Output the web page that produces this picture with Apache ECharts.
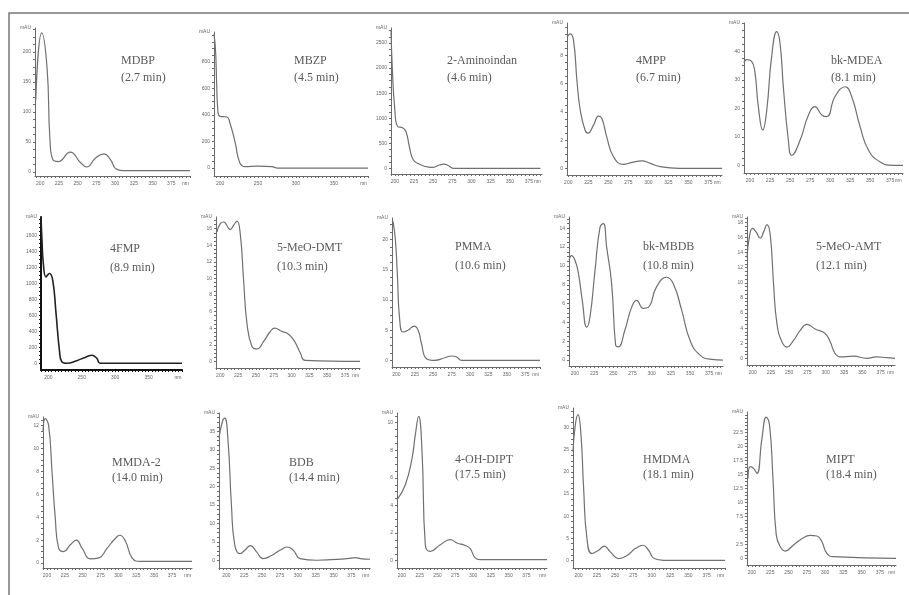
<!DOCTYPE html>
<html>
<head>
<meta charset="utf-8">
<script src="https://cdn.jsdelivr.net/npm/echarts@6/dist/echarts.min.js"></script>
<style>
  html, body { margin: 0; padding: 0; background: #fff; }
  #main { width: 909px; height: 595px; }
</style>
</head>
<body>
<div id="main"></div>
<script>
// compounds and retention times
const compounds = ['MDBP', 'MBZP', '2-Aminoindan', '4MPP', 'bk-MDEA',
                   '4FMP', '5-MeO-DMT', 'PMMA', 'bk-MBDB', '5-MeO-AMT',
                   'MMDA-2', 'BDB', '4-OH-DIPT', 'HMDMA', 'MIPT'];
const retention = ['(2.7 min)', '(4.5 min)', '(4.6 min)', '(6.7 min)', '(8.1 min)',
                   '(8.9 min)', '(10.3 min)', '(10.6 min)', '(10.8 min)', '(12.1 min)',
                   '(14.0 min)', '(14.4 min)', '(17.5 min)', '(18.1 min)', '(18.4 min)'];

// UV spectra: wavelength (nm) and absorbance (mAU)
const mdbpNm  = [194, 202, 209, 213, 217, 224, 240, 254, 262, 274, 285, 294, 301, 310, 400];
const mdbpAbs = [120, 232, 175, 53, 20, 17, 33, 15, 8, 23, 30, 20, 5, 2, 2];

const mbzpNm  = [192, 194, 195.5, 197, 200, 209, 213, 220, 226, 233, 250, 268, 276, 395];
const mbzpAbs = [1010, 890, 640, 440, 390, 385, 340, 190, 40, 10, 15, 10, 0, 0];

const aminoNm  = [195, 196.6, 200, 204, 210, 214.6, 219, 224, 231, 244, 250, 258, 264, 270, 277, 390];
const aminoAbs = [2760, 2040, 1170, 830, 810, 730, 430, 170, 90, 25, 20, 65, 85, 50, 0, 0];

const mppNm  = [198.5, 202.5, 206.6, 210.8, 215, 221, 224.5, 231.5, 237.8, 242, 248, 256.5, 269, 279.5, 292, 302.5, 315, 338, 392];
const mppAbs = [9.3, 9.53, 9.05, 6.23, 4.1, 2.7, 2.5, 3.06, 3.7, 3.53, 2.23, 0.82, 0.28, 0.42, 0.53, 0.35, 0.12, 0, 0];

const mdeaNm  = [192.5, 195.8, 202, 206, 210.4, 215.9, 220.9, 227, 233.4, 237.5, 241.6, 247.9, 252, 262.5, 273, 281, 289.6, 295.9, 306, 318.8, 327, 337.5, 348, 362.5, 379, 391];
const mdeaAbs = [35.9, 37.1, 36.5, 33, 20.6, 12.4, 19.4, 38.2, 47, 42.9, 27.6, 8.8, 3.5, 8.8, 17.7, 20.6, 17.7, 17.1, 24.1, 27.6, 24.1, 13.5, 5.3, 1.2, 0, 0];

const fmpNm  = [189, 190.5, 192.5, 196.5, 201.5, 206.5, 211.5, 216.5, 220, 227.5, 242.5, 257.5, 265, 272.5, 277.5, 400];
const fmpAbs = [1833, 1540, 1250, 1083, 1125, 1042, 625, 167, 21, 0, 33, 83, 100, 63, 0, 0];

const dmtNm  = [195.4, 200, 204.7, 214, 218.7, 223.4, 228, 232.7, 237.4, 244.5, 251.5, 260.8, 270.2, 276.3, 286.6, 293.6, 302.9, 312.3, 319.3, 396];
const dmtAbs = [15.6, 16.6, 16.8, 15.9, 16.4, 16.9, 15.4, 9.8, 4.6, 1.8, 1.5, 2.4, 3.6, 4.0, 3.6, 3.4, 2.6, 1.0, 0.12, 0];

const pmmaNm  = [195.4, 198.6, 201.4, 204.5, 209, 215.8, 224, 229.5, 234, 240.9, 252, 265.8, 275, 281.8, 288.6, 395];
const pmmaAbs = [23.05, 20, 13.9, 6.67, 4.7, 5, 5.67, 5, 2.8, 0.28, 0, 0.44, 0.72, 0.55, 0, 0];

const mbdbNm  = [192.2, 195.7, 200, 204.3, 209.5, 215.3, 219.6, 226.1, 232.6, 237, 241.3, 247.8, 253, 256.4, 265.1, 273.8, 280.4, 289, 295.5, 306.5, 319.5, 328.2, 339.1, 350, 363, 378, 393];
const mbdbAbs = [10.6, 11.1, 10.6, 9.3, 6.35, 3.5, 4.6, 9.5, 14.1, 14.5, 12, 8.1, 1.6, 1.4, 3.2, 5.6, 6.35, 5.5, 5.6, 7.8, 8.8, 8.1, 5.3, 2.1, 0.53, 0.07, 0];

const amtNm  = [192.4, 196, 200, 205, 210.5, 215, 219.7, 224.2, 228.7, 233.3, 240.1, 246.9, 256, 265.1, 274.2, 285.5, 299.1, 306, 312.8, 319.6, 337.8, 356, 369.6, 383.3, 394.6];
const amtAbs = [13.3, 16.3, 17.2, 16.7, 15.9, 16.7, 17.7, 16.3, 9.8, 4.6, 2.2, 1.5, 2.4, 3.7, 4.5, 3.9, 3.3, 2.2, 0.65, 0.2, 0.3, 0, 0.2, 0.1, 0];

const mmdaNm  = [194.4, 197.6, 202.3, 207, 211.6, 216.3, 223.3, 232.7, 241.1, 249.1, 260.8, 272.5, 284.3, 295.9, 302, 310, 319.4, 331, 403];
const mmdaAbs = [11.44, 12.6, 12, 8, 3.9, 1.3, 1.0, 1.6, 2.0, 1.3, 0.37, 0.46, 1.3, 2.17, 2.43, 1.88, 0.43, 0.14, 0.14];

const bdbNm  = [189.6, 194.4, 197.6, 202.3, 207, 211.7, 218.7, 225.7, 233.7, 242.2, 251.5, 263.2, 274.9, 285.2, 293.7, 303.1, 326.6, 368.8, 380.4, 387.5, 401];
const bdbAbs = [33.2, 37.7, 38.6, 32.3, 15, 4.1, 1.8, 2.7, 4.0, 2.3, 0.45, 1.3, 2.7, 3.6, 2.7, 0.45, 0, 0.45, 0.72, 0.45, 0.27];

const diptNm  = [193, 204.7, 214.1, 218.7, 223.4, 228.2, 232.8, 239.8, 253.9, 268, 277.4, 289.1, 296, 303, 310, 404];
const diptAbs = [4.4, 5.5, 7.4, 9.1, 10.45, 7.9, 1.16, 0.67, 1.16, 1.52, 1.28, 1.1, 0.87, 0.2, 0.07, 0.07];

const hmdmaNm  = [192.4, 195.6, 199.2, 203.3, 206.9, 211.5, 218.3, 227.4, 235.1, 243.3, 254.7, 266.1, 277.5, 288, 295.6, 303.4, 316.1, 400];
const hmdmaAbs = [24.6, 30.7, 33, 28.4, 16.3, 4.9, 1.5, 2.27, 3.2, 1.9, 0.39, 1.07, 2.65, 3.4, 2.27, 0.39, 0, 0];

const miptNm  = [194.6, 197.7, 202.2, 206.8, 213.6, 219.5, 224.1, 228.7, 233.2, 238.6, 245.5, 256.8, 268.3, 279.6, 288.7, 295.5, 302.4, 311.5, 397];
const miptAbs = [14.3, 16.4, 16.1, 15.2, 21.4, 25.3, 23.8, 14.3, 4.2, 2.1, 1.3, 2.4, 3.5, 4.1, 4.0, 3.0, 0.9, 0.3, 0];

const spectraNm  = [mdbpNm, mbzpNm, aminoNm, mppNm, mdeaNm, fmpNm, dmtNm, pmmaNm, mbdbNm, amtNm, mmdaNm, bdbNm, diptNm, hmdmaNm, miptNm];
const spectraAbs = [mdbpAbs, mbzpAbs, aminoAbs, mppAbs, mdeaAbs, fmpAbs, dmtAbs, pmmaAbs, mbdbAbs, amtAbs, mmdaAbs, bdbAbs, diptAbs, hmdmaAbs, miptAbs];

// axis ranges and tick labels
const xRanges = [[193, 400], [192, 395], [195, 392], [198.4, 392], [192.5, 391],
                 [189, 400], [194, 396], [194, 395], [192.2, 393], [192.4, 394.6],
                 [194.4, 403], [189.6, 401], [193, 404], [192.4, 400], [193.2, 397]];
const yRanges = [[-7, 240], [-60, 1026], [-114, 2800], [-0.47, 10.3], [-2.7, 50],
                 [-84, 1833], [-0.8, 17.4], [-1.1, 23.6], [-0.63, 15.2], [-0.87, 18.7],
                 [-0.43, 12.75], [-2.1, 40], [-0.53, 10.7], [-1.75, 34.5], [-1.2, 26.2]];
const nmTicks25 = [200, 225, 250, 275, 300, 325, 350, 375];
const nmTicks50 = [200, 250, 300, 350];
const xLabels = [nmTicks25, nmTicks50, nmTicks25, nmTicks25, nmTicks25,
                 nmTicks50, nmTicks25, nmTicks25, nmTicks25, nmTicks25,
                 nmTicks25, nmTicks25, nmTicks25, nmTicks25, nmTicks25];
const yLabels = [[0, 50, 100, 150, 200], [0, 200, 400, 600, 800], [0, 500, 1000, 1500, 2000, 2500],
                 [0, 2, 4, 6, 8], [0, 10, 20, 30, 40],
                 [0, 200, 400, 600, 800, 1000, 1200, 1400, 1600], [0, 2, 4, 6, 8, 10, 12, 14, 16],
                 [0, 5, 10, 15, 20], [0, 2, 4, 6, 8, 10, 12, 14], [0, 2, 4, 6, 8, 10, 12, 14, 16, 18],
                 [0, 2, 4, 6, 8, 10, 12], [0, 5, 10, 15, 20, 25, 30, 35], [0, 2, 4, 6, 8, 10],
                 [0, 5, 10, 15, 20, 25, 30], [0, 2.5, 5, 7.5, 10, 12.5, 15, 17.5, 20, 22.5]];

// layout: plot box [left, top, right, bottom] in px, title [left, top, gap]
const boxes = [[35, 28, 190, 176], [214, 32, 368, 176], [391, 28, 542, 174], [567, 23, 722, 175], [744, 23, 903, 173],
               [41, 217, 182, 370], [216, 217, 360, 368], [392, 218, 540, 367], [569, 217, 723, 366], [747, 217, 895, 365],
               [43, 417, 192, 568], [219, 413, 370, 568], [397, 413, 547, 568], [573, 408, 725, 568], [747, 412, 896, 565]];
const titleAt = [[121, 55, 5], [294, 55, 5], [447, 55, 5], [636, 55, 5], [831, 55, 5],
                 [110, 243, 7], [277, 242, 7], [455, 241, 7], [643, 241, 7], [816, 241, 7],
                 [112, 457, 3], [289, 457, 3], [455, 454, 3], [643, 454, 3], [826, 454, 3]];

const chart = echarts.init(document.getElementById('main'));
const serif = 'Liberation Serif, Times New Roman, serif';
const grids = [], xAxes = [], yAxes = [], series = [], titles = [];

compounds.forEach(function (name, i) {
    const b = boxes[i];
    const bold = name === '4FMP';
    const axisColor = bold ? '#111' : '#6a6a6a';
    const lineW = bold ? 2 : 1;
    const [xMin, xMax] = xRanges[i];
    const [yMin, yMax] = yRanges[i];

    let xTicks = [];
    for (let v = Math.ceil(xMin / 5) * 5; v <= xMax; v += 5) xTicks.push(v);
    let yStep = (yLabels[i][1] - yLabels[i][0]) / 4;
    let yTicks = [];
    for (let v = 0; v <= yMax; v += yStep) yTicks.push(v);
    const nmPos = xMax - 6;

    grids.push({left: b[0], top: b[1], width: b[2] - b[0], height: b[3] - b[1]});
    xAxes.push({
        type: 'value', gridIndex: i, min: xMin, max: xMax,
        axisLine: {onZero: false, lineStyle: {color: axisColor, width: lineW}},
        splitLine: {show: false},
        axisTick: {customValues: xTicks, length: 2, lineStyle: {color: axisColor}},
        axisLabel: {
            customValues: xLabels[i].concat([nmPos]),
            formatter: function (v) { return v === nmPos ? 'nm' : String(v); },
            fontSize: 5, color: '#666', margin: 5, fontFamily: 'Liberation Sans'
        }
    });
    yAxes.push({
        type: 'value', gridIndex: i, min: yMin, max: yMax,
        name: 'mAU', nameGap: -2,
        nameTextStyle: {fontSize: 5, color: '#666', align: 'right', padding: [0, 4, 0, 0]},
        axisLine: {lineStyle: {color: axisColor, width: lineW}},
        splitLine: {show: false},
        axisTick: {customValues: yTicks, length: 2, lineStyle: {color: axisColor}},
        axisLabel: {
            customValues: yLabels[i],
            formatter: function (v) { return String(v); },
            fontSize: 5, color: '#666', margin: 4, fontFamily: 'Liberation Sans'
        }
    });
    series.push({
        type: 'line', xAxisIndex: i, yAxisIndex: i,
        data: spectraNm[i].map(function (x, k) { return [x, spectraAbs[i][k]]; }),
        showSymbol: false, smooth: 0.5,
        lineStyle: {color: bold ? '#222' : '#707070', width: bold ? 1.6 : 1.2},
        animation: false
    });
    titles.push({
        text: name, subtext: retention[i],
        left: titleAt[i][0], top: titleAt[i][1], itemGap: titleAt[i][2], padding: 0,
        textStyle: {fontFamily: serif, fontSize: 12, fontWeight: 'normal', color: '#5a5a5a'},
        subtextStyle: {fontFamily: serif, fontSize: 12, color: '#5a5a5a'}
    });
});

chart.setOption({
    backgroundColor: '#fff',
    animation: false,
    title: titles,
    grid: grids,
    xAxis: xAxes,
    yAxis: yAxes,
    series: series,
    graphic: [{
        type: 'rect', silent: true,
        shape: {x: 9, y: 13, width: 920, height: 600},
        style: {fill: 'none', stroke: '#777', lineWidth: 1.5}
    }]
});
</script>
</body>
</html>
